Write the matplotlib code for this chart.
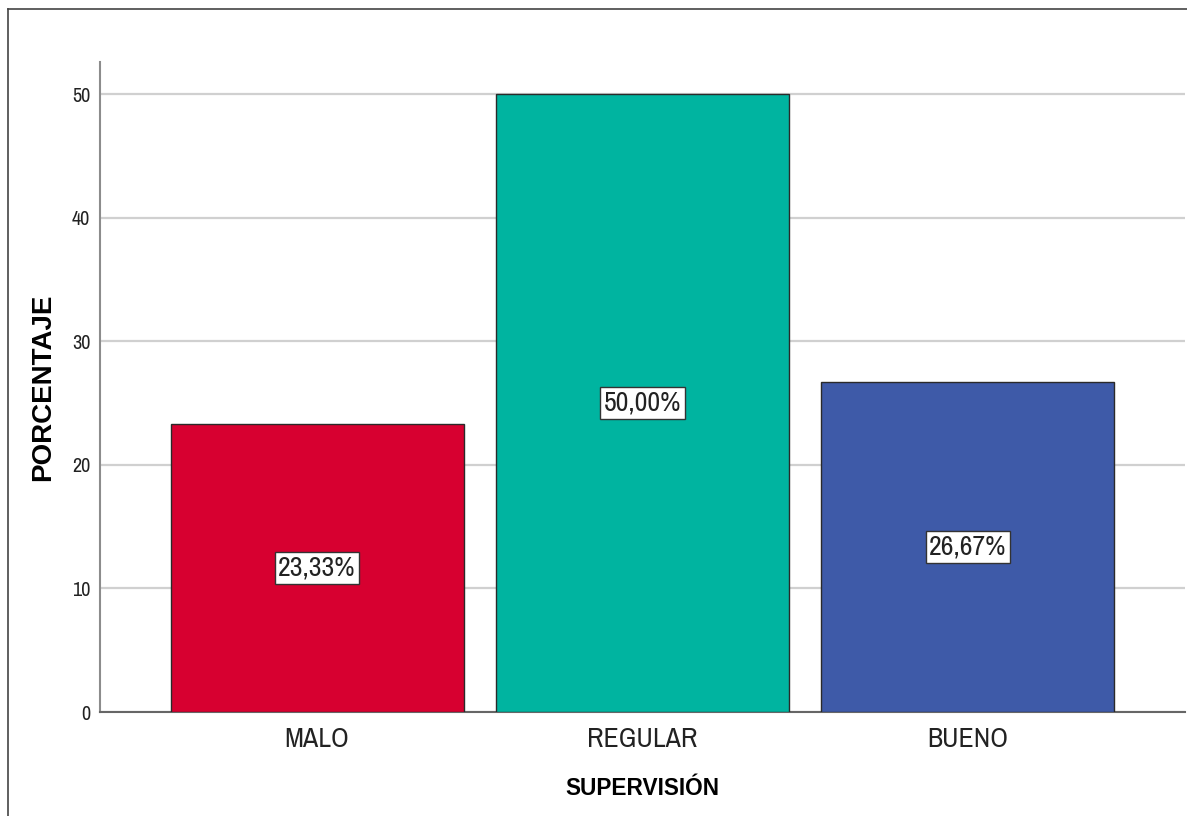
import matplotlib
matplotlib.use("Agg")
import matplotlib.pyplot as plt
from matplotlib.lines import Line2D
import logging

logging.getLogger("matplotlib.font_manager").setLevel(logging.ERROR)

categories = ["MALO", "REGULAR", "BUENO"]
percentages = [23.33, 50.00, 26.67]
bar_colors = ["#D70030", "#00B4A0", "#3E5AA8"]
y_ticks = [0, 10, 20, 30, 40, 50]

NARROW = ["Liberation Sans Narrow", "Arial Narrow", "Archivo Narrow",
          "PT Sans Narrow", "Roboto Condensed", "Liberation Sans"]
plt.rcParams["font.family"] = ["Liberation Sans", "DejaVu Sans"]

fig = plt.figure(figsize=(11.87, 8.16), dpi=100)
ax = fig.add_axes([100 / 1187, (816 - 712) / 816, 1085 / 1187, 650 / 816])

positions = list(range(len(categories)))
ax.bar(positions, percentages, width=0.9, color=bar_colors,
       edgecolor="#2a2a2a", linewidth=1.0, zorder=3)

for x, v in zip(positions, percentages):
    ax.text(x, v / 2, f"{v:.2f}%".replace(".", ","), ha="center", va="center",
            fontsize=20, family=NARROW, color="#222222", zorder=4,
            bbox=dict(boxstyle="square,pad=0.12", facecolor="white",
                      edgecolor="#333333", linewidth=1.0))

ax.set_xlim(-0.667, 2.667)
ax.set_ylim(0, 52.6)
ax.set_yticks(y_ticks)
ax.set_xticks(positions)
ax.set_xticklabels(categories, fontsize=20, family=NARROW, color="#222222")
for lbl in ax.get_yticklabels():
    lbl.set_family(NARROW)
ax.tick_params(axis="y", length=0, pad=7, labelsize=14.5, labelcolor="#222222")
ax.tick_params(axis="x", length=0, pad=11)
ax.yaxis.grid(True, color="#D0D0D0", linewidth=1.6, zorder=0)
ax.set_axisbelow(True)

for side in ("top", "right"):
    ax.spines[side].set_visible(False)
ax.spines["left"].set_color("#8c8c8c")
ax.spines["left"].set_linewidth(1.5)
ax.spines["bottom"].set_color("#666666")
ax.spines["bottom"].set_linewidth(1.5)

ax.set_xlabel("SUPERVISIÓN", fontsize=16.3, fontweight="bold", labelpad=18)
ax.set_ylabel("PORCENTAJE", fontsize=20, fontweight="bold", labelpad=11)

# Outer frame: left and top edges
fig.add_artist(Line2D([8 / 1187, 8 / 1187], [0, 1 - 9 / 816],
                      transform=fig.transFigure, color="#444444", linewidth=1.2))
fig.add_artist(Line2D([8 / 1187, 1], [1 - 9 / 816, 1 - 9 / 816],
                      transform=fig.transFigure, color="#444444", linewidth=1.2))

fig.savefig("out.png", dpi=100)
